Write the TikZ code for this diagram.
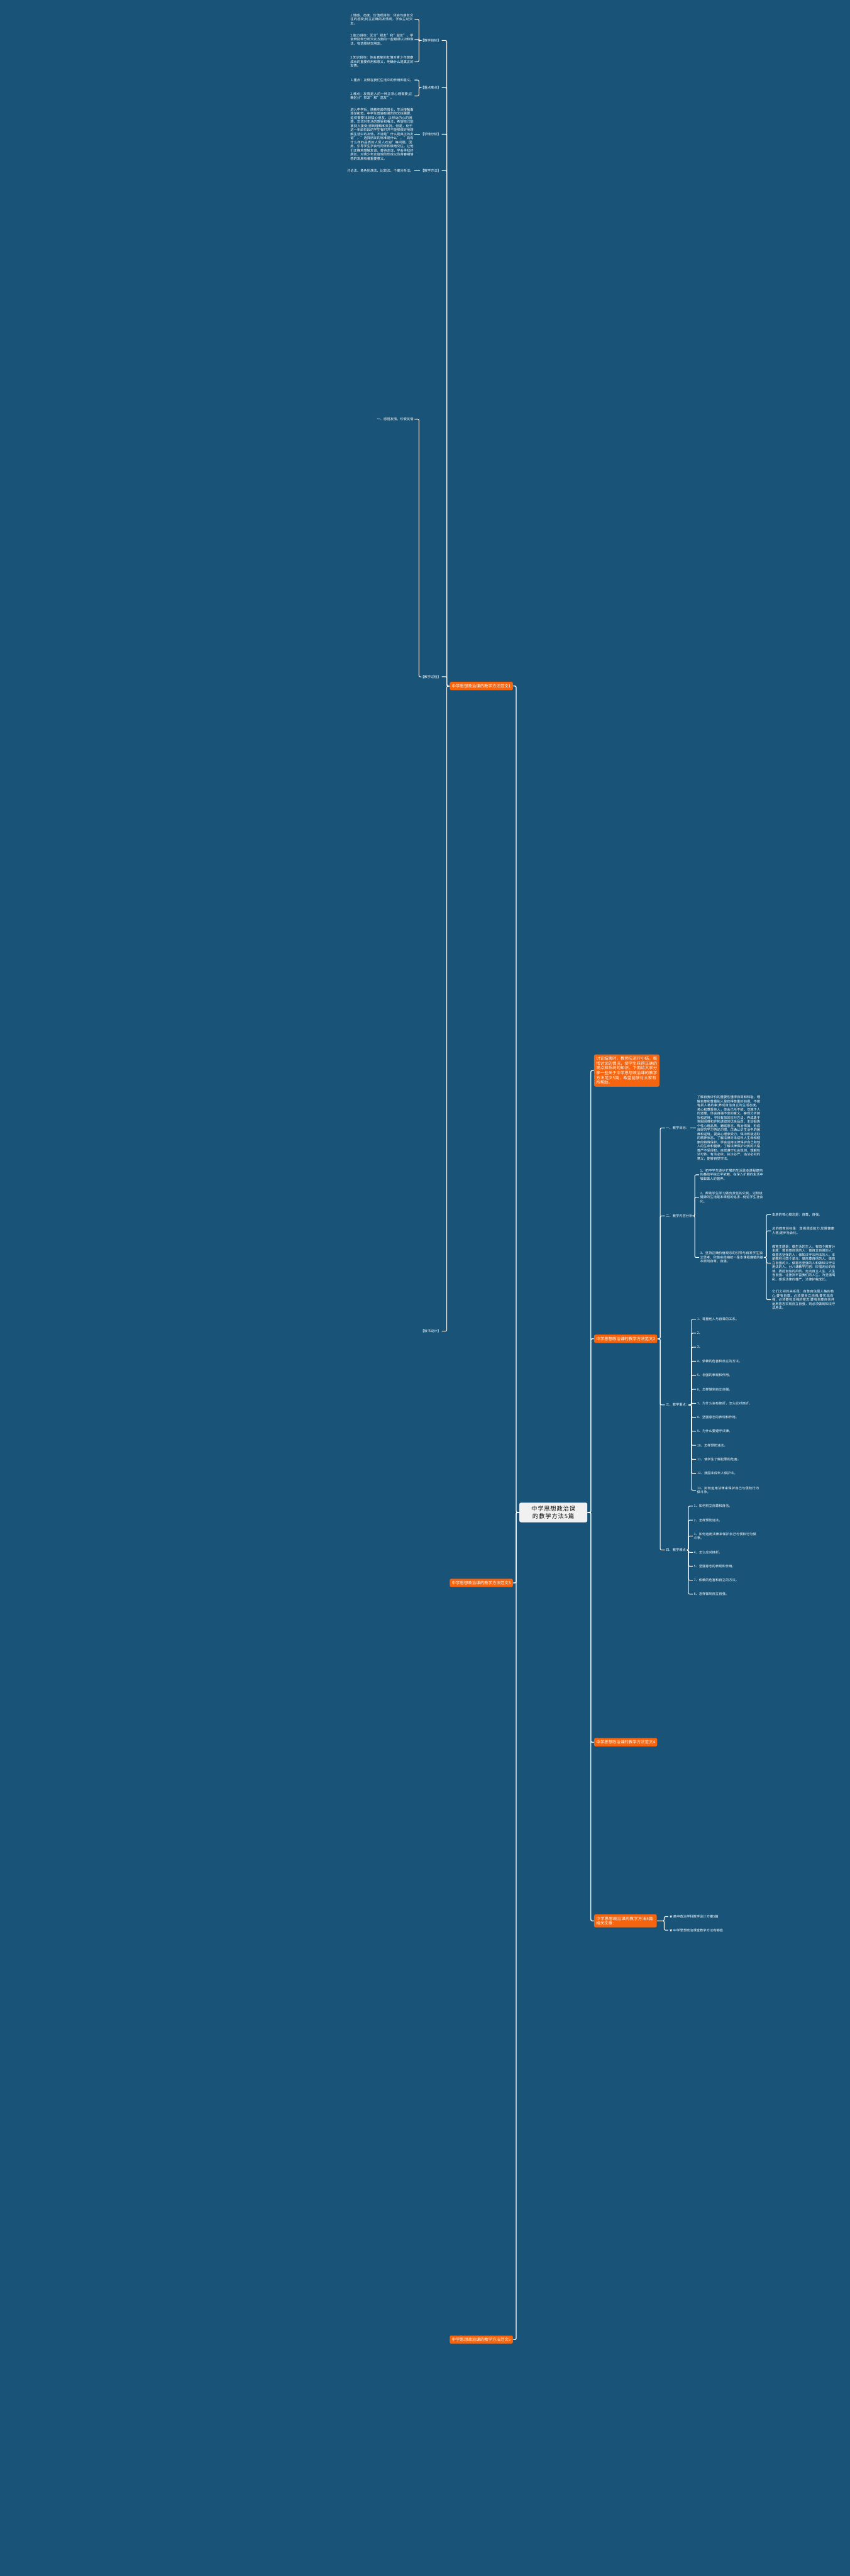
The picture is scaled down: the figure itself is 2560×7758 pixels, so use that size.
\documentclass[tikz,border=0pt]{standalone}
\usepackage{fontspec}
\setmainfont{Noto Sans CJK SC}
\XeTeXlinebreaklocale "zh"
\XeTeXlinebreakskip=0pt plus 0.5pt
\definecolor{bgblue}{RGB}{25,84,120}
\definecolor{orng}{RGB}{245,100,15}
\definecolor{cgray}{RGB}{241,241,241}
\tikzset{
 leaf/.style={text=white, font=\fontsize{2.5}{3.08}\selectfont, inner sep=0.6pt, align=left},
 wleaf/.style={leaf, text width=47.5pt},
 orng/.style={fill=orng, text=white, rounded corners=1.2pt, font=\fontsize{3.05}{3.6}\selectfont, inner xsep=1.6pt, inner ysep=1.7pt},
 conn/.style={draw=white, line width=0.5pt, rounded corners=1pt},
 trunk/.style={draw=white, line width=0.65pt, rounded corners=1pt},
}
\begin{document}
\begin{tikzpicture}[x=0.25pt,y=-0.25pt]
\fill[bgblue] (0,0) rectangle (2560,7758);
\useasboundingbox (0,0) rectangle (2560,7758);

% center
\node[fill=cgray, rounded corners=1.2pt, text=black, font=\fontsize{4.45}{5.4}\selectfont, align=center, text width=44.6pt, inner xsep=3.3pt, inner ysep=2.6pt] (c) at (1667,4555) {中学思想政治课的教学方法5篇};

% right oranges
\node[orng, text width=46pt, align=left, anchor=west] (intro) at (1789,3224) {讨论结束时，教师应进行小结，概括讨论的情况，使学生获得正确的观点和系统的知识。下面给大家分享一些关于中学思想政治课的教学方法范文5篇，希望能够对大家有所帮助。};
\node[orng, anchor=west] (f2) at (1789,4032) {中学思想政治课的教学方法范文2};
\node[orng, anchor=west] (f4) at (1789,5247) {中学思想政治课的教学方法范文4};
\node[orng, anchor=west, text width=44pt, align=left] (rel) at (1789,5785) {中学思想政治课的教学方法5篇相关文章：};
% left oranges
\node[orng, anchor=east] (f1) at (1546,2066) {中学思想政治课的教学方法范文1};
\node[orng, anchor=east] (f3) at (1546,4767) {中学思想政治课的教学方法范文3};
\node[orng, anchor=east] (f5) at (1546,7046) {中学思想政治课的教学方法范文5};

\foreach \n in {intro,f2,f4,rel} \draw[trunk] (c.east) -- (1780,4555) |- (\n.west);
\foreach \n in {f1,f3,f5} \draw[trunk] (c.west) -- (1555,4555) |- (\n.east);

% ===== 范文1 =====
\node[leaf, anchor=east] (f1a) at (1331,122) {【教学目标】};
\node[leaf, anchor=east] (f1b) at (1331,264) {【重点难点】};
\node[leaf, anchor=east] (f1c) at (1331,404) {【学情分析】};
\node[leaf, anchor=east] (f1d) at (1331,514) {【教学方法】};
\node[leaf, anchor=east] (f1e) at (1331,2038) {【教学过程】};
\node[leaf, anchor=east] (f1f) at (1331,4009) {【板书设计】};
\foreach \n in {f1a,f1b,f1c,f1d,f1e,f1f} \draw[conn] (f1.west) -- (1346,2066) |- (\n.east);

\node[wleaf, anchor=east] (f1a1) at (1249,58) {1.情感、态度、价值观目标：体会与朋友交往的感受;树立正确的友情观，学会主动交友。};
\node[wleaf, anchor=east] (f1a2) at (1249,119) {2.能力目标：区分"损友"和"益友"，学会辨别和分析交友方面的一些错误认识和做法，有选择地交朋友。};
\node[wleaf, anchor=east] (f1a3) at (1249,186) {3.知识目标：体会真挚的友情对青少年健康成长的重要作用和意义，明确什么是真正的友情。};
\foreach \n in {f1a1,f1a2,f1a3} \draw[conn] (f1a.west) -- (1262,122) |- (\n.east);
\node[leaf, anchor=east] (f1b1) at (1249,241) {1.重点：友情在我们生活中的作用和意义。};
\node[wleaf, anchor=east] (f1b2) at (1249,289) {2.难点：友情是人的一种正常心理需要;正确区分"损友"和"益友"。};
\foreach \n in {f1b1,f1b2} \draw[conn] (f1b.west) -- (1262,264) |- (\n.east);
\node[wleaf, anchor=east] (f1c1) at (1249,404) {进入中学后，随着年龄的增长，生活接触面逐渐拓宽，中学生普遍有强烈的交往需要，迫切需要找到知心朋友，以倾诉内心的困惑，交流对生活的感受和看法，希望自己能被别人接受;得到理解和支持。但是，处于这一年龄阶段的学生有时并不能够很好地理解生活中的友情，不清楚"什么是真正的友谊"，"选择朋友的标准是什么"，"具有什么样的品质的人受人欢迎"等问题。因此，引导学生学会与同伴积极地交往，让他们正确地理解友谊，善待友谊，学会寻找好朋友，对青少年友谊观的形成以及青春期情感的发展有着重要意义。};
\draw[conn] (f1c.west) -- (f1c1.east);
\node[leaf, anchor=east] (f1d1) at (1249,514) {讨论法、角色扮演法、比较法、个案分析法。};
\draw[conn] (f1d.west) -- (f1d1.east);
\node[leaf, anchor=east] (f1e1) at (1249,1262) {一、感悟友情，珍爱友情};
\draw[conn] (f1e.west) -- (1262,2038) |- (f1e1.east);

% ===== 范文2 =====
\node[leaf, anchor=west] (f2a) at (2003,3397) {一、教学目标：};
\node[leaf, anchor=west] (f2b) at (2003,3662) {二、教学内容分析};
\node[leaf, anchor=west] (f2c) at (2003,4231) {三、教学重点：};
\node[leaf, anchor=west] (f2d) at (2003,4668) {四、教学难点};
\foreach \n in {f2a,f2b,f2c,f2d} \draw[conn] (f2.east) -- (1989,4032) |- (\n.west);

\node[wleaf, anchor=west] (f2a1) at (2097,3397) {了解自我评价的重要性懂得自尊和知耻，理解自尊和尊重别人是获得尊重的前提。不做有损人格的事;养成自信自立的生活态度，关心和尊重他人，体会己所不欲，勿施于人的道理，体会自强不息的意义。客观分析挫折和逆境，寻找有效的应对方法，养成勇于克服困难和开拓进取的优良品质。主动锻炼个性心理品质，磨砺意志，陶冶情操，形成良好的学习劳动习惯。正确认识生活中的困难和逆境，提高心理承受力，保持积极进取的精神状态。了解法律对未成年人生命和健康的特殊保护，学会运用法律保护自己和他人的生命和健康，了解法律保护公民的人格尊严不受侵犯。自觉遵守社会规则，理解有法可依、有法必依、执法必严、违法必究的意义，能够自觉守法。};
\draw[conn] (f2a.east) -- (f2a1.west);

\node[wleaf, anchor=west] (f2b1) at (2106,3538) {1、初中学生逐步扩展的生活是本课程建构的基础半独立半依赖，在深入扩展的生活中吸取做人的营养。};
\node[wleaf, anchor=west] (f2b2) at (2106,3606) {2、帮助学生学习做负责任的公民，过积极健康的生活是本课程的追求—促进学生社会化。};
\node[wleaf, anchor=west] (f2b3) at (2106,3787) {3、坚持正确价值观念的引导与启发学生独立思考、积极实践相统一是本课程遵循的基本原则自尊、自强。};
\foreach \n in {f2b1,f2b2,f2b3} \draw[conn] (f2b.east) -- (2093,3662) |- (\n.west);
\node[leaf, anchor=west] (f2b31) at (2323,3658) {本册的核心概念是：自尊、自强。};
\node[wleaf, anchor=west] (f2b32) at (2323,3707) {总的教育目标是：增强调适能力;发展健康人格;逐步社会化。};
\node[wleaf, anchor=west] (f2b33) at (2323,3804) {教育主题是：做生活的主人。有四个教育分主题：做自尊自信的人：做自立自强的人：做意志坚强的人：做知法守法用法的人。本册教材分四个单元：做自尊自信的人、做自立自强的人、做意志坚强的人和做知法守法用法的人。分八课教学内容：珍惜无价的自尊、扬起自信的风帆、走向自立人生、人生当自强、让挫折丰富我们的人生、为坚强喝彩、感受法律的尊严、法律护我成长。};
\node[wleaf, anchor=west] (f2b34) at (2323,3914) {它们之间的关系是：自尊自信是人格的核心;要有自尊，必须要自立自强;要实现自强，必须要有坚强的意志;要有自尊自信并运用意志实现自立自强，则必须做到知法守法用法。};
\foreach \n in {f2b31,f2b32,f2b33,f2b34} \draw[conn] (f2b3.east) -- (2309,3787) |- (\n.west);

\foreach \t [count=\i] in {1、尊重他人与自尊的关系。,2、,3、,4、依赖的危害和自立的方法。,5、自强的表现和作用。,6、怎样做到自立自强。,7、为什么会有挫折，怎么应对挫折。,8、坚强意志的表现和作用。,9、为什么要遵守法律。,10、怎样预防违法。,11、使学生了解犯罪的危害。,12、我国未成年人保护法。}{
 \node[leaf, anchor=west] (f2c\i) at (2097,{3973+42.2*(\i-1)}) {\t};
 \draw[conn] (f2c.east) -- (2083,4231) |- (f2c\i.west);
}
\node[wleaf, anchor=west] (f2c13) at (2097,4488) {13、如何运用法律来保护自己与侵权行为做斗争。};
\draw[conn] (f2c.east) -- (2083,4231) |- (f2c13.west);

\node[leaf, anchor=west] (f2d1) at (2087,4536) {1、如何树立自尊和自信。};
\node[leaf, anchor=west] (f2d2) at (2087,4578) {2、怎样预防违法。};
\node[wleaf, anchor=west] (f2d3) at (2087,4626) {3、如何运用法律来保护自己与侵权行为做斗争。};
\node[leaf, anchor=west] (f2d4) at (2087,4675) {4、怎么应对挫折。};
\node[leaf, anchor=west] (f2d5) at (2087,4717) {5、坚强意志的表现和作用。};
\node[leaf, anchor=west] (f2d7) at (2087,4759) {7、依赖的危害和自立的方法。};
\node[leaf, anchor=west] (f2d8) at (2087,4801) {8、怎样做到自立自强。};
\foreach \n in {f2d1,f2d2,f2d3,f2d4,f2d5,f2d7,f2d8} \draw[conn] (f2d.east) -- (2074,4668) |- (\n.west);

% ===== related =====
\node[leaf, anchor=west] (r1) at (2013,5772) {★ 高中政治学科教学设计方案5篇};
\node[leaf, anchor=west] (r2) at (2013,5813) {★ 中学思想政治课堂教学方法有哪些};
\foreach \n in {r1,r2} \draw[conn] (rel.east) -- (2001,5785) |- (\n.west);
\end{tikzpicture}
\end{document}
